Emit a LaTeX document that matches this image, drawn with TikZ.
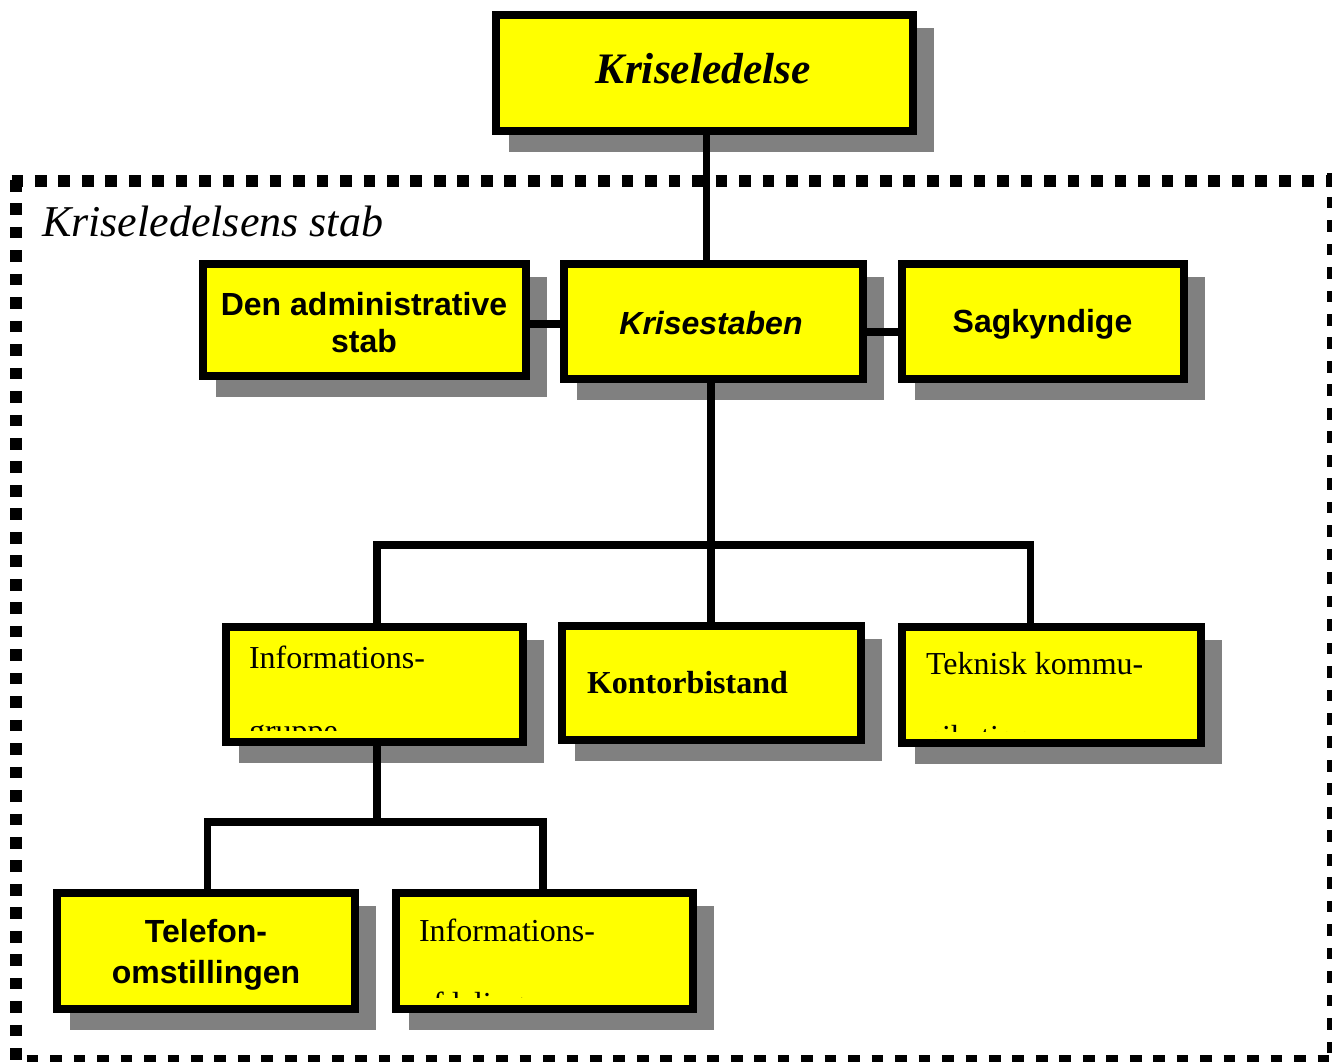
\documentclass[tikz,border=0pt]{standalone}
\usepackage{fontspec}
\setmainfont{Liberation Serif}
\setsansfont{Liberation Sans}
\usetikzlibrary{backgrounds}
\definecolor{boxyellow}{HTML}{FFFF00}
\definecolor{shadowc}{HTML}{808080}
\newcommand\fsz[2]{\fontsize{#1}{#2}\selectfont}
\newcommand\shadowof[1]{\fill[shadowc] ([shift={(17pt,-17pt)}]#1.north west) rectangle ([shift={(17pt,-17pt)}]#1.south east);}
\begin{document}
\begin{tikzpicture}[x=1pt,y=-1pt,
  box/.style={draw=black, fill=boxyellow, line width=8pt, inner sep=0pt, rectangle},
  lbl/.style={inner sep=0pt, outer sep=0pt, text=black},
  conn/.style={draw=black, line width=7.5pt, line join=miter},
  bord/.style={draw=black, line width=12pt, dash pattern=on 11.7pt off 11.77pt},
  sansb/.style={font=\sffamily\bfseries\fsz{32}{37}},
  sansbi/.style={font=\sffamily\bfseries\itshape\fsz{32}{37}},
  serifclip/.style={font=\rmfamily\fsz{32}{73.5}},
  serifb/.style={font=\rmfamily\bfseries\fsz{32}{37}}
]
\useasboundingbox (0,0) rectangle (1332,1061);
\clip (0,0) rectangle (1332,1061);

% boxes
\node[box, minimum width=417pt, minimum height=116pt] (kl) at (704.5,73) {};
\node[box, minimum width=323pt, minimum height=112pt] (adm) at (364.5,320) {};
\node[box, minimum width=299pt, minimum height=115pt] (ks) at (713.5,321.5) {};
\node[box, minimum width=282pt, minimum height=115pt] (sag) at (1043,321.5) {};
\node[box, minimum width=297pt, minimum height=115pt] (ig) at (374.5,684.5) {};
\node[box, minimum width=299pt, minimum height=114pt] (kb) at (711.5,683) {};
\node[box, minimum width=299pt, minimum height=116pt] (tk) at (1051.5,685) {};
\node[box, minimum width=298pt, minimum height=116pt] (tel) at (206,951) {};
\node[box, minimum width=297pt, minimum height=116pt] (ia) at (544.5,951) {};

\begin{scope}[on background layer]
  % dashed frame of the staff
  \draw[bord] (11.5,181) -- (1345,181);
  \draw[bord] (16,179.8) -- (16,1075);
  \draw[bord] (26.7,1061) -- (1345,1061);
  \draw[bord] (1333,173.2) -- (1333,1075);
  % shadows
  \shadowof{kl}\shadowof{adm}\shadowof{ks}\shadowof{sag}
  \shadowof{ig}\shadowof{kb}\shadowof{tk}\shadowof{tel}\shadowof{ia}
  % connectors
  \coordinate (busA) at (711,545);
  \coordinate (busB) at (377,822);
  \draw[conn] ([xshift=2pt]kl.south) -- ([xshift=2pt]kl.south |- ks.north);
  \draw[conn] ([yshift=-4pt]adm.east) -- ([yshift=-4pt]adm.east -| ks.west);
  \draw[conn] ([yshift=-10.5pt]ks.east) -- ([yshift=-10.5pt]ks.east -| sag.west);
  \draw[conn] ([xshift=-2.5pt]ks.south) -- ([xshift=-0.5pt]kb.north);
  \draw[conn] ([xshift=2.5pt]ig.north) |- (busA) -| ([xshift=-21pt]tk.north);
  \draw[conn] ([xshift=2.5pt]ig.south) -- (busB);
  \draw[conn] ([xshift=1.5pt]tel.north) |- (busB) -| ([xshift=-1.5pt]ia.north);
\end{scope}

% labels
\node[lbl, anchor=base west, font=\rmfamily\itshape\fsz{44}{48}] (stab) at (42,236) {Kriseledelsens stab};
\node[lbl, anchor=base, font=\rmfamily\bfseries\itshape\fsz{43.5}{48}] (klt) at (703.5,83) {Kriseledelse};
\node[lbl, anchor=base, sansb] (admt) at (364,315) {\begin{tabular}[t]{@{}c@{}}Den administrative\\stab\end{tabular}};
\node[lbl, anchor=base, sansbi] (kst) at (711,334) {Krisestaben};
\node[lbl, anchor=base, sansb] (sagt) at (1042.5,332) {Sagkyndige};
\node[lbl, anchor=base west, serifb] (kbt) at (587,693) {Kontorbistand};
\node[lbl, anchor=base, font=\sffamily\bfseries\fsz{32}{41}] (telt) at (206,942) {\begin{tabular}[t]{@{}c@{}}Telefon-\\omstillingen\end{tabular}};

\begin{scope}
  \clip (ig.north west) rectangle ([yshift=16pt]ig.south east);
  \node[lbl, anchor=base west, serifclip] (igt) at (249,668) {\begin{tabular}[t]{@{}l@{}}Informations-\\gruppe\end{tabular}};
\end{scope}
\begin{scope}
  \clip (tk.north west) rectangle ([yshift=16pt]tk.south east);
  \node[lbl, anchor=base west, serifclip] (tkt) at (926,674) {\begin{tabular}[t]{@{}l@{}}Teknisk kommu-\\nikation\end{tabular}};
\end{scope}
\begin{scope}
  \clip (ia.north west) rectangle ([yshift=16pt]ia.south east);
  \node[lbl, anchor=base west, serifclip] (iat) at (419,941) {\begin{tabular}[t]{@{}l@{}}Informations-\\afdeling\end{tabular}};
\end{scope}
\end{tikzpicture}
\end{document}
